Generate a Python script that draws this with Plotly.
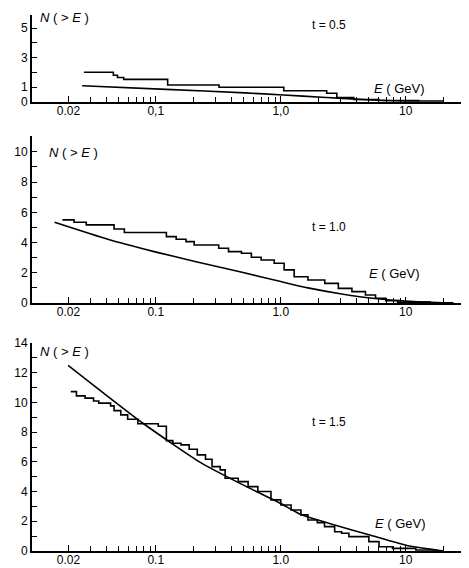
import plotly.graph_objects as go

# ---------------- data ----------------
# Panel t = 0.5
p1_step_E = [0.0266, 0.0458, 0.0494, 0.0554, 0.1245, 0.321, 1.057, 2.33, 2.81, 3.84, 6.08, 12.7, 20.1]
p1_step_N = [2.00, 1.80, 1.65, 1.52, 1.14, 0.98, 0.75, 0.57, 0.28, 0.15, 0.08, 0.04, 0.04]
p1_curve_E = [0.0258, 0.121, 0.518, 1.057, 2.13, 5.35, 12.7]
p1_curve_N = [1.09, 0.84, 0.60, 0.46, 0.30, 0.12, 0.0]

# Panel t = 1.0
p2_step_E = [0.0179, 0.0222, 0.0278, 0.0464, 0.0561, 0.1216, 0.1456, 0.1745, 0.203, 0.319,
             0.382, 0.485, 0.582, 0.697, 0.887, 1.064, 1.28, 1.65, 2.25, 2.89, 3.71, 4.76,
             5.73, 6.92, 8.61, 15.7, 24.1]
p2_step_N = [5.50, 5.34, 5.17, 4.90, 4.66, 4.39, 4.22, 4.06, 3.84, 3.62,
             3.40, 3.29, 3.03, 2.85, 2.63, 2.19, 1.74, 1.52, 1.30, 0.97, 0.75, 0.53,
             0.31, 0.15, 0.06, 0.02, 0.02]
p2_curve_E = [0.0155, 0.042, 0.097, 0.206, 0.48, 1.0, 1.65, 3.07, 5.7, 10.7, 20.0]
p2_curve_N = [5.34, 4.20, 3.40, 2.75, 2.05, 1.42, 1.00, 0.60, 0.30, 0.12, 0.02]

# Panel t = 1.5
p3_step_E = [0.0209, 0.0232, 0.0272, 0.0318, 0.0350, 0.0435, 0.0464, 0.0525, 0.0596, 0.0719,
             0.1047, 0.1216, 0.137, 0.159, 0.185, 0.215, 0.250, 0.282, 0.328, 0.359,
             0.457, 0.548, 0.656, 0.835, 1.0, 1.21, 1.45, 1.65, 1.96, 2.24,
             2.70, 3.07, 3.51, 5.07, 6.11, 7.84, 12.05, 17.5]
p3_step_N = [10.73, 10.44, 10.29, 10.10, 9.95, 9.77, 9.45, 9.16, 8.87, 8.56,
             8.40, 7.43, 7.25, 7.14, 6.85, 6.47, 6.18, 5.68, 5.46, 4.90,
             4.67, 4.33, 4.00, 3.44, 3.10, 2.76, 2.43, 2.09, 1.91, 1.64,
             1.30, 1.19, 0.97, 0.63, 0.29, 0.18, 0.07, 0.0]
p3_curve_E = [0.0199, 0.079, 0.229, 0.485, 1.0, 1.45, 2.70, 5.07, 10.7, 17.5, 20.0]
p3_curve_N = [12.5, 8.6, 5.95, 4.5, 3.2, 2.45, 1.75, 1.1, 0.34, 0.07, 0.0]

x_tickvals = [0.02, 0.1, 1.0, 10.0]
x_ticktext_p1 = ["0.02", "0,1", "1,0", "10"]
x_ticktext = ["0.02", "0.1", "1.0", "10"]
x_minorvals = [0.03, 0.04, 0.05, 0.06, 0.07, 0.08, 0.09,
               0.2, 0.3, 0.4, 0.5, 0.6, 0.7, 0.8, 0.9,
               2, 3, 4, 5, 6, 7, 8, 9, 20]

y1_tickvals = [0, 1, 3, 5]
y1_minor = [2, 4]
y2_tickvals = [0, 2, 4, 6, 8, 10]
y2_minor = [1, 3, 5, 7, 9]
y3_tickvals = [0, 2, 4, 6, 8, 10, 12, 14]
y3_minor = [1, 3, 5, 7, 9, 11, 13]

t_labels = ["t = 0.5", "t = 1.0", "t = 1.5"]

# ---------------- figure ----------------
# The page has an 8 px body margin, so the figure is drawn 8 px smaller
# and every placement below is given in page pixels.
OFF = 8
PAGE_W, PAGE_H = 469, 568
W, H = PAGE_W - OFF, PAGE_H - OFF
PLOT_L, PLOT_R, PLOT_T, PLOT_B = 32, 462, 10, 551   # page pixels
ML, MR, MT, MB = PLOT_L - OFF, PAGE_W - PLOT_R, PLOT_T - OFF, PAGE_H - PLOT_B
PW, PH = PLOT_R - PLOT_L, PLOT_B - PLOT_T


def py(pix):
    return (PLOT_B - pix) / PH


def px(pix):
    return (pix - PLOT_L) / PW


FONT = "Liberation Sans, Arial, sans-serif"
line = dict(color="black", width=1.6)

fig = go.Figure()
panels = [
    (p1_step_E, p1_step_N, p1_curve_E, p1_curve_N, "x", "y"),
    (p2_step_E, p2_step_N, p2_curve_E, p2_curve_N, "x2", "y2"),
    (p3_step_E, p3_step_N, p3_curve_E, p3_curve_N, "x3", "y3"),
]
for sE, sN, cE, cN, xa, ya in panels:
    fig.add_trace(go.Scatter(x=sE, y=sN, mode="lines", line=dict(line, shape="hv"),
                             xaxis=xa, yaxis=ya, showlegend=False, hoverinfo="skip"))
    fig.add_trace(go.Scatter(x=cE, y=cN, mode="lines", line=dict(line, shape="spline", smoothing=0.6),
                             xaxis=xa, yaxis=ya, showlegend=False, hoverinfo="skip"))

xrange = [-1.99, 1.45]


def xaxis(anchor, texts):
    return dict(type="log", range=xrange, domain=[0, 1], anchor=anchor, automargin=False,
                tickvals=x_tickvals, ticktext=texts, ticks="inside", ticklen=6,
                tickwidth=1.3, tickcolor="black", ticklabelstandoff=-3,
                minor=dict(tickvals=x_minorvals, ticks="inside", ticklen=5,
                           tickwidth=1.3, tickcolor="black"),
                showline=True, linecolor="black", linewidth=1.8,
                showgrid=False, zeroline=False,
                tickfont=dict(family=FONT, size=12, color="black"))


def yaxis(anchor, dom, rng, tv, mv):
    return dict(range=rng, domain=dom, anchor=anchor, automargin=False,
                tickvals=tv, ticks="inside", ticklen=5, tickwidth=1.3, tickcolor="black",
                minor=dict(tickvals=mv, ticks="inside", ticklen=5, tickwidth=1.3,
                           tickcolor="black"),
                showline=True, linecolor="black", linewidth=1.8,
                showgrid=False, zeroline=False,
                tickfont=dict(family=FONT, size=12, color="black"))


fig.update_layout(
    template="none",
    width=W, height=H,
    margin=dict(l=ML, r=MR, t=MT, b=MB, pad=0),
    paper_bgcolor="white", plot_bgcolor="white",
    xaxis=xaxis("y", x_ticktext_p1),
    xaxis2=xaxis("y2", x_ticktext),
    xaxis3=xaxis("y3", x_ticktext),
    yaxis=yaxis("x", [py(101.7), py(15)], [0, 5.9], y1_tickvals, y1_minor),
    yaxis2=yaxis("x2", [py(303), py(136)], [0, 11.05], y2_tickvals, y2_minor),
    yaxis3=yaxis("x3", [py(551), py(343)], [0, 14], y3_tickvals, y3_minor),
)

ann = []
# N(>E) labels
for xp, yp in [(38, 17), (47, 152), (38, 351)]:
    ann.append(dict(text="<i>N</i> ( > <i>E</i> )", x=px(xp), y=py(yp), xref="paper", yref="paper",
                    xanchor="left", yanchor="middle", showarrow=False,
                    font=dict(family=FONT, size=13, color="black")))
# E (GeV) labels
for xp, yp in [(372, 88), (367, 273), (373, 523)]:
    ann.append(dict(text="<i>E</i> ( GeV)", x=px(xp), y=py(yp), xref="paper", yref="paper",
                    xanchor="left", yanchor="middle", showarrow=False,
                    font=dict(family=FONT, size=13, color="black")))
# t labels
for (xp, yp), t in zip([(310, 25), (310, 227), (310, 422)], t_labels):
    ann.append(dict(text=t, x=px(xp), y=py(yp), xref="paper", yref="paper",
                    xanchor="left", yanchor="middle", showarrow=False,
                    font=dict(family=FONT, size=12, color="black")))
fig.update_layout(annotations=ann)

fig.write_html("out.html")
